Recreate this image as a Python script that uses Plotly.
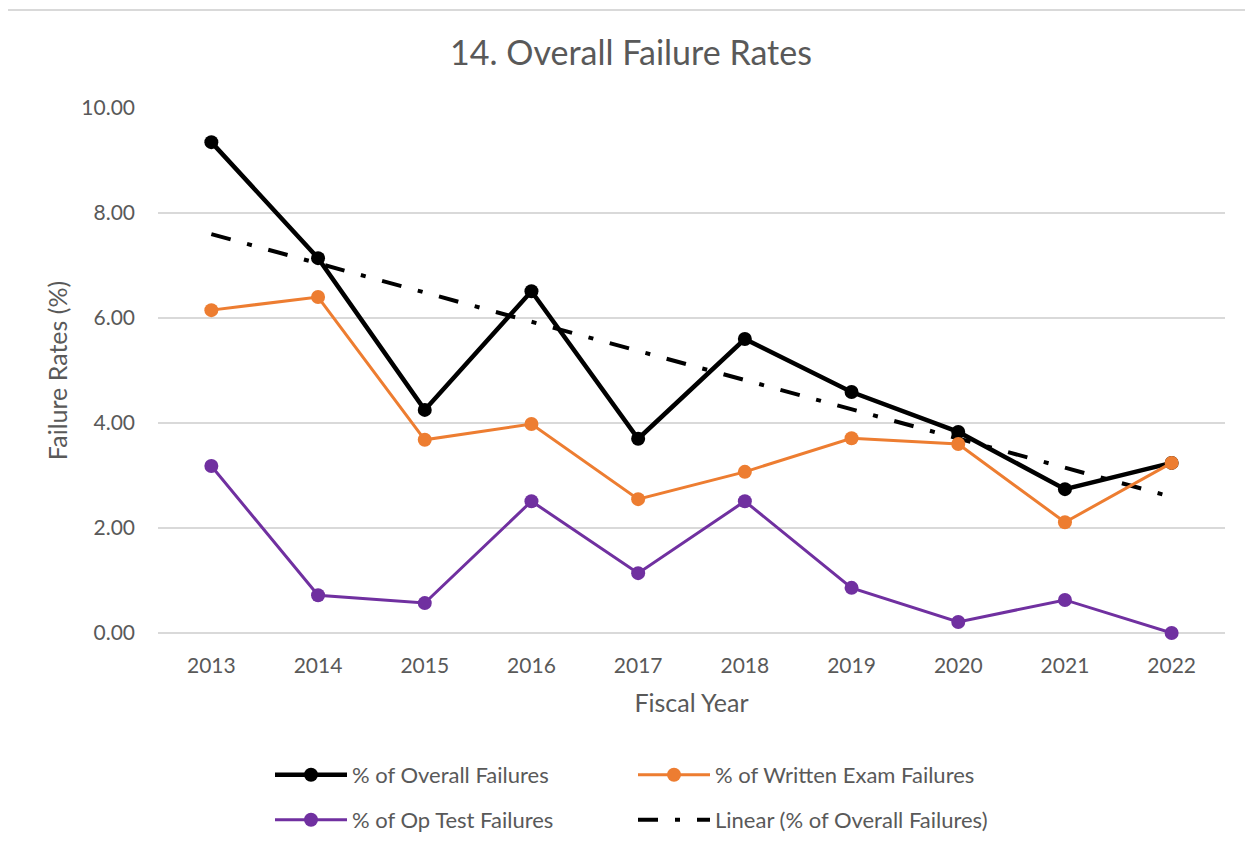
import numpy as np
import plotly.graph_objects as go

years = ["2013", "2014", "2015", "2016", "2017", "2018", "2019", "2020", "2021", "2022"]
overall = [9.35, 7.14, 4.25, 6.51, 3.70, 5.60, 4.59, 3.83, 2.74, 3.24]
written = [6.15, 6.40, 3.68, 3.98, 2.55, 3.07, 3.71, 3.60, 2.11, 3.24]
optest = [3.18, 0.72, 0.57, 2.51, 1.14, 2.51, 0.86, 0.21, 0.63, 0.00]

# linear trendline of overall failures (least squares, like Excel)
xi = np.arange(1, len(years) + 1)
slope, intercept = np.polyfit(xi, overall, 1)
trend = list(slope * xi + intercept)

FONT = "Lato"
GRAY = "#595959"
GRID = "#D9D9D9"

fig = go.Figure()
fig.add_trace(go.Scatter(x=years, y=trend, name="Linear (% of Overall Failures)", mode="lines",
                         line=dict(color="black", width=4, dash="20px,17px,5px,17px"),
                         cliponaxis=False, legend="legend2", legendrank=4))
fig.add_trace(go.Scatter(x=years, y=overall, name="% of Overall Failures", mode="lines+markers",
                         line=dict(color="black", width=4.5), marker=dict(size=14, color="black"),
                         cliponaxis=False, legend="legend", legendrank=1))
fig.add_trace(go.Scatter(x=years, y=written, name="% of Written Exam Failures", mode="lines+markers",
                         line=dict(color="#ED7D31", width=3), marker=dict(size=14, color="#ED7D31"),
                         cliponaxis=False, legend="legend", legendrank=2))
fig.add_trace(go.Scatter(x=years, y=optest, name="% of Op Test Failures", mode="lines+markers",
                         line=dict(color="#7030A0", width=3), marker=dict(size=14, color="#7030A0"),
                         cliponaxis=False, legend="legend2", legendrank=3))

OFF = 8  # page body margin
W, H = 1253 - OFF, 848 - OFF
L, T = 158 - OFF, 108 - OFF
Rpx, Bpx = 1225 - OFF, 633 - OFF
R, B = W - Rpx, H - Bpx
pw, ph = Rpx - L, Bpx - T


def px(xs):
    return (xs - OFF - L) / pw


def py(ys):
    return (Bpx - (ys - OFF)) / ph


def cy(ys):
    return 1 - (ys - OFF) / H


legend_common = dict(orientation="h", xanchor="left", yanchor="middle", yref="container",
                     font=dict(family=FONT, size=22, color=GRAY),
                     itemwidth=72, entrywidth=276, entrywidthmode="pixels",
                     bgcolor="rgba(0,0,0,0)", traceorder="normal")

fig.update_layout(
    width=W, height=H,
    margin=dict(l=L, r=R, t=T, b=B, autoexpand=False),
    plot_bgcolor="white", paper_bgcolor="white",
    font=dict(family=FONT, color=GRAY),
    title=dict(text="14. Overall Failure Rates", x=(631 - OFF) / W, y=cy(53),
               xanchor="center", yanchor="middle",
               font=dict(family=FONT, size=34, color=GRAY)),
    legend=dict(x=px(270), y=cy(775), **legend_common),
    legend2=dict(x=px(270), y=cy(820), **legend_common),
    xaxis=dict(type="category", range=[-0.5, 9.5], showgrid=False, showline=False, zeroline=False,
               tickfont=dict(family=FONT, size=21, color=GRAY), ticklabelstandoff=18,
               title=dict(text="Fiscal Year", font=dict(family=FONT, size=25, color=GRAY), standoff=18)),
    yaxis=dict(range=[0, 10], dtick=2, tickformat=".2f", showgrid=True, gridcolor=GRID, gridwidth=2,
               zeroline=True, zerolinecolor=GRID, zerolinewidth=2, showline=False,
               tickfont=dict(family=FONT, size=21, color=GRAY), ticklabelstandoff=22,
               title=dict(text="Failure Rates (%)", font=dict(family=FONT, size=25, color=GRAY), standoff=6)),
    shapes=[dict(type="rect", xref="paper", yref="paper",
                 x0=px(7), x1=px(1262), y0=py(860), y1=py(10),
                 line=dict(color=GRID, width=2), fillcolor="rgba(0,0,0,0)", layer="below")],
)

fig.write_html("out.html")
